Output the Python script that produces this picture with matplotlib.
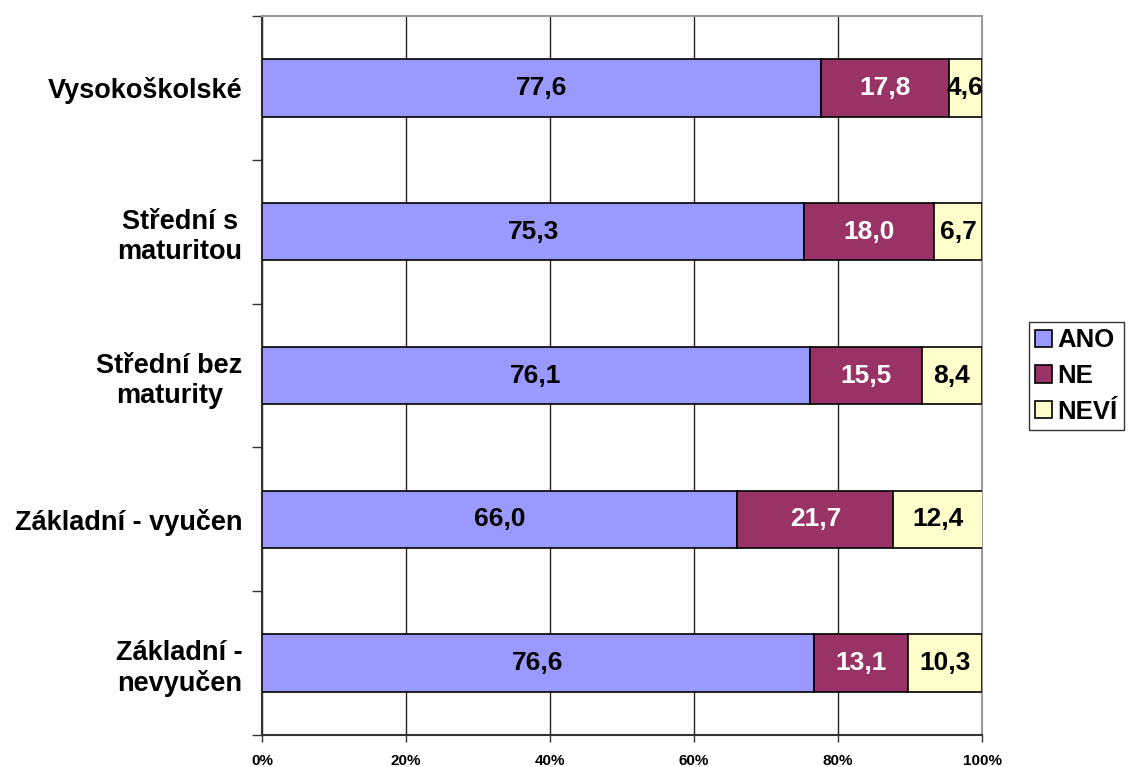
import matplotlib
matplotlib.use("Agg")
import matplotlib.pyplot as plt
import numpy as np

plt.rcParams["font.family"] = ["Liberation Sans", "DejaVu Sans"]
plt.rcParams["font.weight"] = "bold"

categories = [
    "Vysokoškolské",
    "Střední s\nmaturitou",
    "Střední bez\nmaturity",
    "Základní - vyučen",
    "Základní -\nnevyučen",
]
ano = [77.6, 75.3, 76.1, 66.0, 76.6]
ne = [17.8, 18.0, 15.5, 21.7, 13.1]
nevi = [4.6, 6.7, 8.4, 12.4, 10.3]
series_names = ["ANO", "NE", "NEVÍ"]
colors = ["#9999FF", "#993366", "#FFFFCC"]
text_colors = ["black", "white", "black"]
xticks = [0, 20, 40, 60, 80, 100]

fig = plt.figure(figsize=(11.29, 7.67), dpi=100)
ax = fig.add_axes([262 / 1129, 1 - 735 / 767, 720 / 1129, 719 / 767])

y = np.arange(len(categories))
left = np.zeros(len(categories))
for vals, name, col, tcol in zip([ano, ne, nevi], series_names, colors, text_colors):
    vals = np.array(vals)
    ax.barh(y, vals, left=left, height=0.4, color=col, edgecolor="black",
            linewidth=1.2, label=name, zorder=3)
    for yi, li, v in zip(y, left, vals):
        ax.text(li + v / 2, yi, f"{v:.1f}".replace(".", ","), ha="center",
                va="center", color=tcol, fontsize=19, fontweight="bold", zorder=4)
    left += vals

ax.set_xlim(0, 100)
ax.set_ylim(len(categories) - 0.5, -0.5)
ax.set_xticks(xticks)
ax.set_xticklabels([f"{t}%" for t in xticks], fontsize=11, fontweight="bold")
ax.tick_params(axis="x", length=5, width=1, pad=9, color="#333333")

ax.set_yticks(y)
ax.set_yticklabels(categories, fontsize=19.5, fontweight="bold")
for lab in ax.get_yticklabels():
    lab.set_multialignment("center")
ax.tick_params(axis="y", which="major", length=0, pad=14)
ax.set_yticks(np.arange(-0.5, len(categories)), minor=True)
ax.tick_params(axis="y", which="minor", length=7, width=1, color="#333333")

ax.grid(axis="x", color="#222222", linewidth=1, zorder=0)
for side in ["top", "right"]:
    ax.spines[side].set_color("#999999")
    ax.spines[side].set_linewidth(1.5)
for side in ["left", "bottom"]:
    ax.spines[side].set_color("#333333")
    ax.spines[side].set_linewidth(1.5)

leg = ax.legend(loc="center left", bbox_to_anchor=(1029 / 1129, 1 - 376 / 767),
                bbox_transform=fig.transFigure, fontsize=18.5, frameon=True,
                fancybox=False, edgecolor="black", handlelength=0.65,
                handleheight=0.65, handletextpad=0.2, borderpad=0.25,
                labelspacing=0.45, borderaxespad=0)
leg.get_frame().set_linewidth(1)
for t in leg.get_texts():
    t.set_fontweight("bold")

fig.savefig("out.png", dpi=100)
